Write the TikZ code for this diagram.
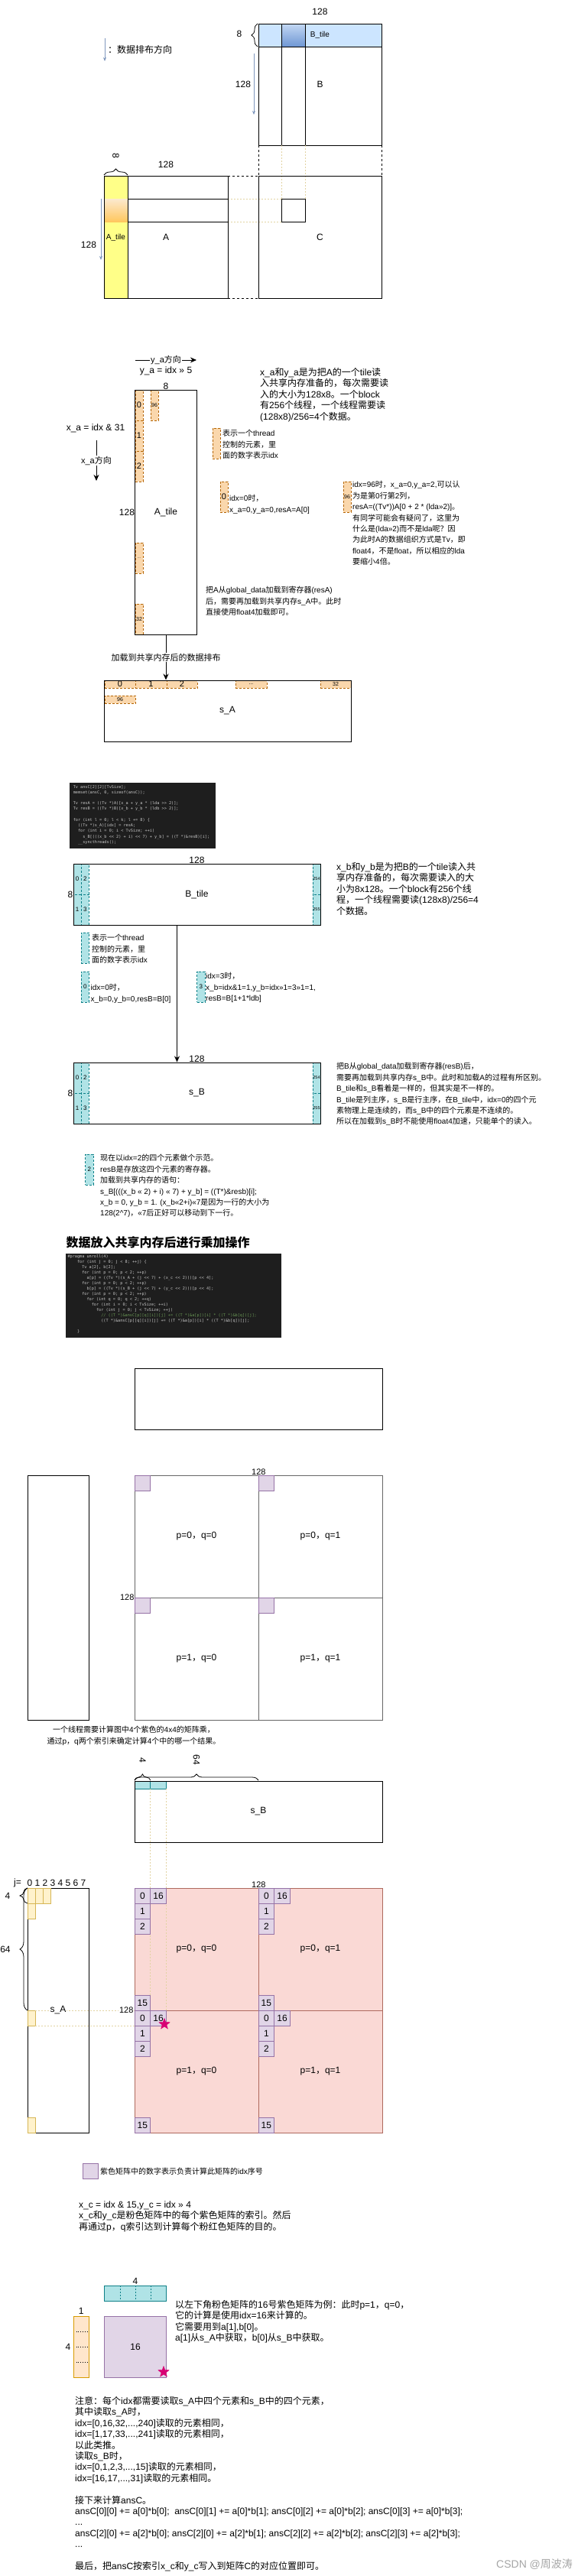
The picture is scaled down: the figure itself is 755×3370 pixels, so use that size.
\documentclass[tikz,border=0pt]{standalone}
\usepackage{fontspec}
\setmainfont{Liberation Sans}
\setmonofont{DejaVu Sans Mono}
\newfontfamily\cjkfont{Noto Sans CJK SC}
\usetikzlibrary{arrows.meta,decorations.pathreplacing,shapes.geometric}

% Chinese characters switch to the CJK family by themselves
\XeTeXinterchartokenstate=1
\newXeTeXintercharclass\cjkclass
\newcommand\markcjk[2]{%
  \count255=#1\relax
  \loop\ifnum\count255<#2\relax
    \XeTeXcharclass\count255=\cjkclass
    \advance\count255 by 1\relax
  \repeat}
\markcjk{"3000}{"3040}
\markcjk{"4E00}{"A000}
\markcjk{"FF00}{"FFF0}
\XeTeXinterchartoks 0 \cjkclass = {\cjkfont}
\XeTeXinterchartoks 4095 \cjkclass = {\cjkfont}
\XeTeXinterchartoks \cjkclass 0 = {\rmfamily}
\XeTeXinterchartoks \cjkclass 4095 = {\rmfamily}

\newcommand\fsz[1]{\fontsize{#1}{#1}\selectfont}
\newcommand\ind[1]{\hspace*{#1\fontcharwd\font`\0}}

\definecolor{tileorange}{HTML}{FAD7AC}
\definecolor{tileorangeline}{HTML}{B46504}
\definecolor{tilecyan}{HTML}{B0E3E6}
\definecolor{tilecyanline}{HTML}{0E8088}
\definecolor{idxpurple}{HTML}{E1D5E7}
\definecolor{idxpurpleline}{HTML}{9673A6}
\definecolor{blockpink}{HTML}{FAD9D5}
\definecolor{blockpinkline}{HTML}{AE6A5E}
\definecolor{ayellow}{HTML}{FFFF88}
\definecolor{syellow}{HTML}{FFF2CC}
\definecolor{syellowline}{HTML}{D6B656}
\definecolor{lightorange}{HTML}{FFE6CC}
\definecolor{lightorangeline}{HTML}{D79B00}
\definecolor{dirblue}{HTML}{7F97BD}
\definecolor{bblue}{HTML}{CCE5FF}
\definecolor{bgradtop}{HTML}{C3D8F3}
\definecolor{bgradbot}{HTML}{6F97D4}
\definecolor{agradtop}{HTML}{FCE9CF}
\definecolor{agradbot}{HTML}{FFC75E}
\definecolor{codebg}{HTML}{1E1E1E}
\definecolor{codefg}{HTML}{C8C8C8}
\definecolor{codecomment}{HTML}{6A9955}
\definecolor{guidecol}{HTML}{E2D3A2}
\definecolor{starred}{HTML}{D80073}
\definecolor{gridgray}{HTML}{666666}

\tikzset{
  blk/.style={draw, line width=1pt, inner sep=0pt},
  lbl/.style={inner sep=0pt, font=\fsz{12}},
  note/.style={inner sep=0pt, align=left, anchor=base west, font=\fontsize{12}{14.4}\selectfont},
  small note/.style={note, font=\fontsize{10}{14.4}\selectfont},
  codetext/.style={inner sep=0pt, align=left, anchor=base west, text=codefg, font=\ttfamily\fontsize{5.2}{7}\selectfont},
  ocell/.style={draw=tileorangeline, fill=tileorange, dash pattern=on 3pt off 2pt, inner sep=0pt, minimum width=10pt, minimum height=40pt, font=\fsz{11}},
  ccell/.style={draw=tilecyanline, fill=tilecyan, dash pattern=on 3pt off 2pt, inner sep=0pt, minimum width=10.3pt, minimum height=40pt, font=\fsz{8}},
  pcell/.style={draw=idxpurpleline, fill=idxpurple, line width=0.8pt, inner sep=0pt, minimum width=20.75pt, minimum height=20pt, font=\fsz{12}},
  ycell/.style={draw=syellowline, fill=syellow, line width=0.8pt, inner sep=0pt, minimum width=10pt, minimum height=20pt},
  quad/.style={draw=gridgray, line width=0.8pt, inner sep=0pt, minimum width=162pt, minimum height=160pt, font=\fsz{12}},
  dirarrow/.style={draw=dirblue, line width=0.8pt, -{Stealth[length=5pt,width=4pt]}},
  loadarrow/.style={draw, line width=1pt, -{Stealth[length=8pt,width=7pt]}},
  bracestyle/.style={decorate, decoration={brace, amplitude=#1}, line width=0.8pt},
  guideline/.style={draw=guidecol, dash pattern=on 2pt off 2pt, line width=0.8pt},
  gapline/.style={draw, dash pattern=on 3pt off 3pt, line width=1pt},
  pstar/.style={star, star points=5, star point ratio=2.4, fill=starred, draw=starred, inner sep=0pt, minimum size=15pt},
}

\begin{document}
\begin{tikzpicture}[x=1pt, y=-1pt, font=\fontsize{12}{14.4}\selectfont]
\fill[white] (0,0) rectangle (755,3370);
\useasboundingbox (0,0) rectangle (755,3370);

% ---------- A, B and C
\coordinate (legtop) at (137,50);
\coordinate (legbot) at (137,80);
\draw[dirarrow] (legtop) -- (legbot);
\node[note] (legtext) at (141,69.5) {：数据排布方向};

\fill[bblue] (338,31) rectangle (499,61);
\shade[top color=bgradtop, bottom color=bgradbot] (368,31) rectangle (399,61);
\draw[line width=1pt] (338,31) rectangle (499,190) (338,61) -- (499,61)
  (368,31) -- (368,190) (399,31) -- (399,190);
\node[lbl] (Bwidth) at (418.5,15) {128};
\node[lbl, font=\fsz{10}] (Btilename) at (418.5,46) {B\_tile};
\node[lbl] (Bname) at (418.5,110) {B};
\node[lbl] (Bdepth) at (313,44) {8};
\node[lbl] (Bheight) at (318,110) {128};
\draw[bracestyle=8pt] (337,61) -- (337,31);
\coordinate (bdirtop) at (332,70);
\coordinate (bdirbot) at (332,150);
\draw[dirarrow] (bdirtop) -- (bdirbot);

\draw[gapline] (338,190) -- (338,230) (499,190) -- (499,230)
  (298,230) -- (338,230) (298,390) -- (338,390);
\draw[guideline] (368,190) -- (368,260) (399,190) -- (399,260)
  (298,260) -- (368,260) (298,290) -- (368,290);
\draw[line width=1pt] (338,230) rectangle (499,390) (368,260) rectangle (399,290);
\node[lbl] (Cname) at (418.5,310) {C};

\fill[ayellow] (136,230) rectangle (167,390);
\shade[top color=agradtop, bottom color=agradbot] (136,260) rectangle (167,290);
\draw[line width=1pt] (136,230) rectangle (298,390) (167,230) -- (167,390)
  (167,260) -- (298,260) (167,290) -- (298,290);
\node[lbl] (Awidth) at (217,215) {128};
\node[lbl, rotate=-90] (Adepth) at (151.5,204) {8};
\draw[bracestyle=8pt] (136,229) -- (167,229);
\node[lbl, font=\fsz{10}] (Atilename) at (151.5,311) {A\_tile};
\node[lbl] (Aname) at (217,310) {A};
\node[lbl] (Aheight) at (116,320) {128};
\coordinate (adirtop) at (132,260);
\coordinate (adirbot) at (132,340);
\draw[dirarrow] (adirtop) -- (adirbot);

% ---------- A_tile read by threads
\foreach \i/\t in {0/0,1/1,2/2}
  \node[ocell] (acell\i) at (182,530+40*\i) {\t};
\node[ocell, font=\fsz{5}] (acelldots) at (182,730) {...};
\node[ocell, font=\fsz{7}] (acell32) at (182,810) {32};
\node[ocell, font=\fsz{7}] (acell96) at (202,530) {96};
\node[blk, minimum width=80.6pt, minimum height=320pt] (Atile) at (217,670) {A\_tile};
\node[lbl, anchor=east] (Atileh) at (Atile.west) {128};
\node[lbl, anchor=south] (Atilew) at (Atile.north) {8};

\coordinate (yastart) at (177,471);
\coordinate (yaend) at (257,471);
\draw[loadarrow, line width=0.8pt] (yastart) -- (yaend)
  node[midway, fill=white, inner sep=1pt, font=\fsz{11}] (yadir) {y\_a方向};
\node[lbl] (yaeq) at (217,485) {y\_a = idx >> 5};
\node[lbl] (xaeq) at (125,560) {x\_a = idx \& 31};
\coordinate (xastart) at (126,576);
\coordinate (xaend) at (126,629);
\draw[loadarrow, line width=0.8pt] (xastart) -- (xaend)
  node[midway, fill=white, inner sep=1pt, font=\fsz{11}] (xadir) {x\_a方向};

\node[note] (anote) at (340,549.1) {x\_a和y\_a是为把A的一个tile读\\
入共享内存准备的，每次需要读\\
入的大小为128x8。一个block\\
有256个线程，一个线程需要读\\
(128x8)/256=4个数据。};

\node[ocell] (alegcell) at (283,580) {};
\node[small note] (aleg) at (291,599.6) {表示一个thread\\控制的元素，里\\面的数字表示idx};

\node[ocell] (aidx0) at (293,650) {0};
\node[small note] (aidx0note) at (300,670.2) {idx=0时，\\x\_a=0,y\_a=0,resA=A[0]};

\node[ocell, font=\fsz{7}] (aidx96) at (454,650) {96};
\node[small note] (aidx96note) at (461,738.6) {idx=96时，x\_a=0,y\_a=2,可以认\\
为是第0行第2列，\\
resA=((Tv*))A[0 + 2 * (lda>>2)]。\\
有同学可能会有疑问了，这里为\\
什么是(lda>>2)而不是lda呢？因\\
为此时A的数据组织方式是Tv，即\\
float4，不是float，所以相应的lda\\
要缩小4倍。};

\node[small note] (aloadnote) at (269,804.6) {把A从global\_data加载到寄存器(resA)\\
后，需要再加载到共享内存s\_A中。此时\\
直接使用float4加载即可。};

% ---------- s_A
\foreach \n/\cx/\t in {0/157/0,1/197.5/1,2/238/2}
  \node[ocell, minimum width=40.6pt, minimum height=10pt] (sacell\n) at (\cx,895) {\t};
\node[ocell, minimum width=40.6pt, minimum height=10pt, font=\fsz{7}] (sacelldots) at (328.5,895) {...};
\node[ocell, minimum width=40.6pt, minimum height=10pt, font=\fsz{7}] (sacell32) at (439,895) {32};
\node[ocell, minimum width=40.6pt, minimum height=10pt, font=\fsz{7}] (sacell96) at (157,915) {96};
\node[blk, minimum width=323pt, minimum height=80pt] (sA) at (297.5,930) {s\_A};
\draw[loadarrow] (Atile.south) -- (Atile.south |- sA.north)
  node[midway, fill=white, inner sep=1pt, font=\fsz{11}] (aloadlabel) {加载到共享内存后的数据排布};

% ---------- loading code
\node[fill=codebg, minimum width=191pt, minimum height=86pt, inner sep=0pt] (codeload) at (186.5,1067) {};
\node[codetext, font=\ttfamily\fontsize{5.2}{7.3}\selectfont] (codeloadtext) at (95.6,1103.4) {Tv ansC[2][2][TvSize];\\
memset(ansC, 0, sizeof(ansC));\\[7pt]
Tv resA = ((Tv *)A)[x\_a + y\_a * (lda >> 2)];\\
Tv resB = ((Tv *)B)[x\_b + y\_b * (ldb >> 2)];\\[7pt]
for (int l = 0; l < k; l += 8) \{\\
\ind{2}((Tv *)s\_A)[idx] = resA;\\
\ind{2}for (int i = 0; i < TvSize; ++i)\\
\ind{4}s\_B[(((x\_b << 2) + i) << 7) + y\_b] = ((T *)\&resB)[i];\\
\ind{2}\_\_syncthreads();};

% ---------- B_tile read by threads
\foreach \n/\cx/\cy in {0/101/1150,1/101/1190,2/111.3/1150,3/111.3/1190}
  \node[ccell] (bcell\n) at (\cx,\cy) {\n};
\foreach \n/\cy in {254/1150,255/1190}
  \node[ccell, font=\fsz{5.5}] (bcell\n) at (414,\cy) {\n};
\node[blk, minimum width=323pt, minimum height=80pt] (Btile) at (257.5,1170) {B\_tile};
\node[lbl, anchor=east] (Btileh) at (Btile.west) {8};
\node[lbl, anchor=south] (Btilew) at (Btile.north) {128};
\node[note] (bnote) at (440,1196.1) {x\_b和y\_b是为把B的一个tile读入共\\
享内存准备的，每次需要读入的大\\
小为8x128。一个block有256个线\\
程，一个线程需要读(128x8)/256=4\\
个数据。};

\node[ccell] (blegcell) at (111.3,1240) {};
\node[small note] (bleg) at (120,1259.6) {表示一个thread\\控制的元素，里\\面的数字表示idx};
\node[ccell] (bidx0) at (111.3,1291) {0};
\node[small note] (bidx0note) at (118.5,1310.2) {idx=0时，\\x\_b=0,y\_b=0,resB=B[0]};
\node[ccell] (bidx3) at (262.8,1291) {3};
\node[small note] (bidx3note) at (269,1309.6) {idx=3时，\\
x\_b=idx\&1=1,y\_b=idx>>1=3>>1=1,\\
resB=B[1+1*ldb]};

% ---------- s_B
\foreach \n/\cx/\cy in {0/101/1410,1/101/1450,2/111.3/1410,3/111.3/1450}
  \node[ccell] (sbcell\n) at (\cx,\cy) {\n};
\foreach \n/\cy in {254/1410,255/1450}
  \node[ccell, font=\fsz{5.5}] (sbcell\n) at (414,\cy) {\n};
\node[blk, minimum width=323pt, minimum height=80pt] (sB) at (257.5,1430) {s\_B};
\node[lbl, anchor=east] (sBh) at (sB.west) {8};
\node[lbl, anchor=south] (sBw) at (sB.north) {128};
\coordinate (bloadtop) at (231.5,1210);
\draw[loadarrow] (bloadtop) -- (bloadtop |- sB.north);
\node[small note] (sbnote) at (440,1470.8) {把B从global\_data加载到寄存器(resB)后，\\
需要再加载到共享内存s\_B中。此时和加载A的过程有所区别。\\
B\_tile和s\_B看着是一样的，但其实是不一样的。\\
B\_tile是列主序，s\_B是行主序，在B\_tile中，idx=0的四个元\\
素物理上是连续的，而s\_B中的四个元素是不连续的。\\
所以在加载到s\_B时不能使用float4加速，只能单个的读入。};

\node[ccell] (bidx2) at (116.8,1530) {2};
\node[small note] (bidx2note) at (131,1590.8) {现在以idx=2的四个元素做个示范。\\
resB是存放这四个元素的寄存器。\\
加载到共享内存的语句：\\
s\_B[(((x\_b << 2) + i) << 7) + y\_b] = ((T*)\&resb)[i];\\
x\_b = 0, y\_b = 1. (x\_b<<2+i)<<7是因为一行的大小为\\
128(2\^{}7)，<<7后正好可以移动到下一行。};

% ---------- multiply-add
\node[note, font=\fsz{16}\bfseries] (mulhead) at (86.4,1631) {数据放入共享内存后进行乘加操作};
\node[fill=codebg, minimum width=282pt, minimum height=110pt, inner sep=0pt] (codemul) at (227,1695) {};
\node[codetext] (codemultext) at (88.3,1743) {\#pragma unroll(4)\\
\ind{4}for (int j = 0; j < 8; ++j) \{\\
\ind{6}Tv a[2], b[2];\\
\ind{6}for (int p = 0; p < 2; ++p)\\
\ind{8}a[p] = ((Tv *)(s\_A + (j << 7) + (x\_c << 2)))[p << 4];\\
\ind{6}for (int p = 0; p < 2; ++p)\\
\ind{8}b[p] = ((Tv *)(s\_B + (j << 7) + (y\_c << 2)))[p << 4];\\
\ind{6}for (int p = 0; p < 2; ++p)\\
\ind{8}for (int q = 0; q < 2; ++q)\\
\ind{10}for (int i = 0; i < TvSize; ++i)\\
\ind{12}for (int j = 0; j < TvSize; ++j)\\
\ind{14}\textcolor{codecomment}{// ((T *)\&ansC[p][q][i])[j] += ((T *)\&a[p])[i] * ((T *)\&b[q])[j];}\\
\ind{14}((T *)\&ansC[p][q][i])[j] += ((T *)\&a[p])[i] * ((T *)\&b[q])[j];\\[7pt]
\ind{4}\}};

% ---------- four results per thread
\node[blk, minimum width=324pt, minimum height=80pt] (blankB) at (338,1830) {};
\node[blk, minimum width=80.5pt, minimum height=320pt] (blankA) at (76.25,2090) {};
\node[quad] (c00) at (257,2010) {p=0，q=0};
\node[quad] (c01) at (419,2010) {p=0，q=1};
\node[quad] (c10) at (257,2170) {p=1，q=0};
\node[quad] (c11) at (419,2170) {p=1，q=1};
\foreach \qx/\qy in {0/0,162/0,0/160,162/160}
  \node[pcell] (corner\qx-\qy) at (186.5+\qx,1940+\qy) {};
\node[lbl, font=\fsz{11}, anchor=south] (cw) at (c00.north east) {128};
\node[lbl, font=\fsz{11}, anchor=east] (ch) at (c10.north west) {128};
\node[small note, align=center, anchor=base] (cnote) at (175,2281.2) {一个线程需要计算图中4个紫色的4x4的矩阵乘，\\通过p，q两个索引来确定计算4个中的哪一个结果。};

% ---------- s_B, s_A and the pink blocks
\node[draw=tilecyanline, fill=tilecyan, line width=0.8pt, minimum width=20.75pt, minimum height=10pt, inner sep=0pt] (sbv0) at (186.4,2335) {};
\node[draw=tilecyanline, fill=tilecyan, line width=0.8pt, minimum width=20.75pt, minimum height=10pt, inner sep=0pt] (sbv1) at (207.1,2335) {};
\node[blk, minimum width=324pt, minimum height=80pt] (sB2) at (338,2370) {s\_B};
\draw[bracestyle=8pt] (176,2329) -- (196.75,2329);
\draw[bracestyle=8pt] (176,2329) -- (338,2329);
\node[lbl, rotate=-90] (sB2four) at (186.4,2303) {4};
\node[lbl, rotate=-90] (sB2half) at (257,2302) {64};

\node[quad, fill=blockpink, draw=blockpinkline] (pq00) at (257,2550) {p=0，q=0};
\node[quad, fill=blockpink, draw=blockpinkline] (pq01) at (419,2550) {p=0，q=1};
\node[quad, fill=blockpink, draw=blockpinkline] (pq10) at (257,2710) {p=1，q=0};
\node[quad, fill=blockpink, draw=blockpinkline] (pq11) at (419,2710) {p=1，q=1};
\draw[guideline] (196.75,2340) -- (196.75,2630) (217.5,2340) -- (217.5,2630);
\foreach \qx/\qy in {0/0,162/0,0/160,162/160} {
  \foreach \ry/\t in {0/0,20/1,40/2,140/15}
    \node[pcell] (pc\qx-\qy-\t) at (186.4+\qx,2480+\qy+\ry) {\t};
  \node[pcell] (pc\qx-\qy-16) at (207.1+\qx,2480+\qy) {16};
}
\node[lbl, font=\fsz{11}, anchor=south] (pw) at (pq00.north east) {128};

\node[blk, minimum width=80.5pt, minimum height=320pt] (sA2) at (76.25,2630) {};
\foreach \n/\cx/\cy in {0/41/2480,1/51/2480,2/61/2480,3/41/2500,4/41/2640,5/41/2780}
  \node[ycell] (sacol\n) at (\cx,\cy) {};
\node[lbl] (jeq) at (23,2463) {j=};
\foreach \j in {0,...,7}
  \node[lbl] (jidx\j) at (39+10*\j,2463) {\j};
\draw[bracestyle=10pt] (36,2490) -- (36,2470);
\draw[bracestyle=10pt] (36,2630) -- (36,2470);
\node[lbl] (sAfour) at (10,2480) {4};
\node[lbl] (sAhalf) at (7,2550) {64};
\draw[guideline] (46,2630) -- (176,2630) (46,2650) -- (176,2650);
\node[lbl, fill=white, inner sep=1pt] (sA2name) at (76,2630) {s\_A};
\node[lbl, fill=white, inner sep=1pt, font=\fsz{11}, anchor=east] (ph) at (pq10.north west) {128};
\node[pstar] (cstar1) at (215,2648) {};

\node[pcell] (pleg) at (118.5,2840) {};
\node[small note] (plegtext) at (131,2844.8) {紫色矩阵中的数字表示负责计算此矩阵的idx序号};

\node[note] (xcnote) at (103,2917.3) {x\_c = idx \& 15,y\_c = idx >> 4\\
x\_c和y\_c是粉色矩阵中的每个紫色矩阵的索引。然后\\
再通过p，q索引达到计算每个粉红色矩阵的目的。};

% ---------- one 4x4 block
\node[draw=tilecyanline, fill=tilecyan, line width=0.8pt, minimum width=81pt, minimum height=20pt, inner sep=0pt] (bvec) at (177,3000) {};
\foreach \i in {1,2,3}
  \draw[tilecyanline, dash pattern=on 2pt off 2pt] (136.5+20.25*\i,2990) -- ++(0,20);
\node[lbl, anchor=south, inner sep=1pt] (bvecw) at (bvec.north) {4};
\node[draw=lightorangeline, fill=lightorange, line width=0.8pt, minimum width=20.5pt, minimum height=80pt, inner sep=0pt] (avec) at (106.25,3070) {};
\foreach \yy in {3050,3070,3090}
  \draw[dotted, line width=0.8pt] (99.5,\yy) -- (115.5,\yy);
\node[lbl, anchor=south, inner sep=2pt] (avecw) at (avec.north) {1};
\node[lbl, anchor=east, inner sep=3pt] (avech) at (avec.west) {4};
\node[draw=idxpurpleline, fill=idxpurple, line width=0.8pt, minimum width=81pt, minimum height=80pt, inner sep=0pt, font=\fsz{12}] (cblock) at (177,3070) {16};
\node[pstar] (cstar2) at (214,3103) {};
\node[note] (cblocknote) at (229,3062.7) {以左下角粉色矩阵的16号紫色矩阵为例：此时p=1，q=0，\\
它的计算是使用idx=16来计算的。\\
它需要用到a[1],b[0]。\\
a[1]从s\_A中获取，b[0]从s\_B中获取。};

% ---------- closing notes
\node[note] (endnote) at (98,3361.5) {注意：每个idx都需要读取s\_A中四个元素和s\_B中的四个元素，\\
其中读取s\_A时，\\
idx=[0,16,32,...,240]读取的元素相同，\\
idx=[1,17,33,...,241]读取的元素相同，\\
以此类推。\\
读取s\_B时，\\
idx=[0,1,2,3,...,15]读取的元素相同，\\
idx=[16,17,...,31]读取的元素相同。\\[14.4pt]
接下来计算ansC。\\
ansC[0][0] += a[0]*b[0];\ \ ansC[0][1] += a[0]*b[1]; ansC[0][2] += a[0]*b[2]; ansC[0][3] += a[0]*b[3];\\
...\\
ansC[2][0] += a[2]*b[0]; ansC[2][0] += a[2]*b[1]; ansC[2][2] += a[2]*b[2]; ansC[2][3] += a[2]*b[3];\\
...\\[14.4pt]
最后，把ansC按索引x\_c和y\_c写入到矩阵C的对应位置即可。};
\node[lbl, font=\fsz{14}, text=gray!70, anchor=base west] (watermark) at (649,3359) {CSDN @周波涛};
\end{tikzpicture}
\end{document}
